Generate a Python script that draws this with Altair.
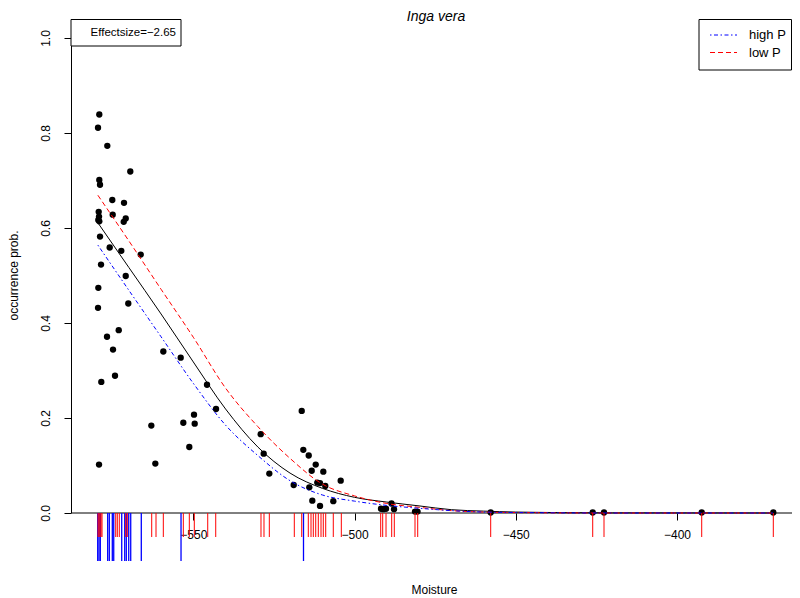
import altair as alt
import pandas as pd

# ---------------- data ----------------
TITLE = "Inga vera"
X_TITLE = "Moisture"
Y_TITLE = "occurrence prob."
EFFECT_LABEL = "Effectsize=\u22122.65"
LEGEND_LABELS = ["high P", "low P"]
X_TICKS = [-550, -500, -450, -400]
Y_TICKS = [0.0, 0.2, 0.4, 0.6, 0.8, 1.0]

point_moisture = [
    -579.15, -579.55, -576.67, -569.54, -579.15, -578.93, -575.12, -571.49,
    -579.34, -579.24, -579.46, -579.15, -575.00, -570.96, -571.58, -578.93,
    -575.93, -572.33, -566.31, -578.62, -570.96, -579.46, -570.16, -579.55,
    -573.13, -576.76, -574.90, -559.30, -553.91, -574.28, -578.53, -579.24,
    -545.75, -542.96, -549.78, -553.10, -549.57, -563.02, -529.10, -551.24,
    -528.17, -561.78, -526.43,
    -516.38, -515.89, -514.21, -512.04, -513.28, -509.69, -504.29, -518.87,
    -514.03, -511.55, -510.71, -509.07, -513.10, -506.59, -510.71,
    -491.79, -491.08, -490.24, -488.54, -487.76, -481.25, -480.47,
    -457.78, -426.14, -422.64, -392.34, -370.14,
]
point_prob = [
    0.839, 0.811, 0.773, 0.719, 0.701, 0.691, 0.659, 0.653,
    0.634, 0.624, 0.617, 0.614, 0.628, 0.620, 0.613, 0.582,
    0.559, 0.552, 0.544, 0.523, 0.499, 0.474, 0.441, 0.432,
    0.385, 0.371, 0.344, 0.340, 0.327, 0.289, 0.276, 0.102,
    0.270, 0.219, 0.207, 0.190, 0.188, 0.184, 0.166, 0.139,
    0.125, 0.104, 0.083,
    0.215, 0.133, 0.121, 0.102, 0.089, 0.087, 0.068, 0.059,
    0.054, 0.064, 0.063, 0.057, 0.026, 0.025, 0.015,
    0.009, 0.008, 0.009, 0.020, 0.008, 0.003, 0.003,
    0.001, 0.001, 0.001, 0.001, 0.001,
]

curve_moisture = [-579.6, -570, -560, -550, -540, -530, -520, -510, -500,
                  -490, -480, -470, -460, -450, -420, -370.2]
curve_mean = [0.611, 0.517, 0.419, 0.318, 0.219, 0.139, 0.084, 0.052, 0.033,
              0.023, 0.015, 0.007, 0.004, 0.002, 0.0002, 0.0]
curve_low_p = [0.669, 0.573, 0.471, 0.370, 0.263, 0.182, 0.115, 0.061, 0.036,
               0.020, 0.012, 0.005, 0.002, 0.001, 0.0, 0.0]
curve_high_p = [0.564, 0.469, 0.371, 0.273, 0.185, 0.121, 0.068, 0.038, 0.025,
                0.016, 0.010, 0.005, 0.002, 0.001, 0.0, 0.0]

rug_high_p = [-579.65, -579.24, -578.84, -576.55, -576.05, -575.12, -574.68,
              -572.20, -571.27, -570.78, -570.03, -569.41, -566.13, -553.81,
              -515.83]
rug_low_p = [-579.55, -579.24, -578.93, -578.62, -578.31, -574.06, -573.57,
             -572.95, -570.96, -570.47, -562.90, -561.57, -559.30, -553.10,
             -551.24, -549.69, -545.53, -543.05, -529.01, -528.08, -526.43,
             -518.68, -516.38, -514.34, -513.50, -512.79, -512.04, -511.24,
             -510.40, -509.69, -508.94, -506.59, -504.10, -491.89, -491.27,
             -490.24, -488.48, -487.67, -481.25, -480.41, -457.78, -426.14,
             -422.64, -392.34, -370.14]

# ---------------- chart ----------------
W, H = 721, 513
FONT = "Liberation Sans"

xs = alt.Scale(domain=[-587.93, -364.34], nice=False, zero=False)
ys = alt.Scale(domain=[-0.04, 1.04], nice=False, zero=False)

pts = pd.DataFrame({"m": point_moisture, "p": point_prob})
curves = pd.DataFrame({"m": curve_moisture, "mean": curve_mean,
                       "low": curve_low_p, "high": curve_high_p})
rug_hi = pd.DataFrame({"m": rug_high_p})
rug_lo = pd.DataFrame({"m": rug_low_p})

x_axis = alt.Axis(values=X_TICKS, tickSize=7, domain=False, offset=-19,
                  labelPadding=9, labelFontSize=12, labelFont=FONT,
                  labelColor="black", tickColor="black", title=None,
                  grid=False, labelFlush=False, labelOverlap=False, format="d")
y_axis = alt.Axis(values=Y_TICKS, tickSize=7, domain=False, labelAngle=270,
                  labelAlign="center", labelBaseline="bottom", labelPadding=12,
                  labelFontSize=12, labelFont=FONT, labelColor="black",
                  tickColor="black", title=None, grid=False, format=".1f",
                  labelFlush=False, labelOverlap=False)

points = alt.Chart(pts).mark_point(filled=True, color="black", size=40,
                                   opacity=1).encode(
    x=alt.X("m:Q", scale=xs, axis=x_axis),
    y=alt.Y("p:Q", scale=ys, axis=y_axis))

zero_line = alt.Chart(pd.DataFrame({"y": [0.0]})).mark_rule(
    color="black", strokeWidth=1).encode(
    y=alt.Y("y:Q", scale=ys), x=alt.value(0), x2=alt.value(W))

y_line = alt.Chart(pd.DataFrame({"a": [Y_TICKS[0]], "b": [Y_TICKS[-1]]})).mark_rule(
    color="black", strokeWidth=1).encode(
    y=alt.Y("a:Q", scale=ys), y2="b:Q", x=alt.value(0.5))

line_mean = alt.Chart(curves).mark_line(
    color="black", strokeWidth=1, interpolate="monotone").encode(
    x=alt.X("m:Q", scale=xs), y=alt.Y("mean:Q", scale=ys))
line_low = alt.Chart(curves).mark_line(
    color="#FF0000", strokeWidth=1, strokeDash=[5, 3],
    interpolate="monotone").encode(
    x=alt.X("m:Q", scale=xs), y=alt.Y("low:Q", scale=ys))
line_high = alt.Chart(curves).mark_line(
    color="#0000FF", strokeWidth=1, strokeDash=[1.5, 2.5, 4, 2.5],
    interpolate="monotone").encode(
    x=alt.X("m:Q", scale=xs), y=alt.Y("high:Q", scale=ys))

rug_blue = alt.Chart(rug_hi).mark_rule(color="#0000FF", strokeWidth=1.3).encode(
    x=alt.X("m:Q", scale=xs), y=alt.value(494), y2=alt.value(542))
rug_red = alt.Chart(rug_lo).mark_rule(color="#FF0000", strokeWidth=1).encode(
    x=alt.X("m:Q", scale=xs), y=alt.value(494), y2=alt.value(518))

# effect size box (top left)
eff = pd.DataFrame({"t": [EFFECT_LABEL]})
eff_box = alt.Chart(eff).mark_rect(fill="white", stroke="black",
                                   strokeWidth=1).encode(
    x=alt.value(0), x2=alt.value(110), y=alt.value(0.5), y2=alt.value(27))
eff_text = alt.Chart(eff).mark_text(align="right", baseline="middle",
                                    font=FONT, fontSize=11.5,
                                    color="black").encode(
    text="t:N", x=alt.value(105), y=alt.value(14))

# legend (top right)
LX = 628
leg = pd.DataFrame({"t": LEGEND_LABELS})
leg_box = alt.Chart(leg.head(1)).mark_rect(fill="white", stroke="black",
                                           strokeWidth=1).encode(
    x=alt.value(LX), x2=alt.value(W - 0.5), y=alt.value(0.5), y2=alt.value(51))
leg_hi_line = alt.Chart(leg.head(1)).mark_rule(
    color="#0000FF", strokeWidth=1, strokeDash=[1.5, 2.5, 4, 2.5]).encode(
    x=alt.value(LX + 11), x2=alt.value(LX + 38), y=alt.value(16))
leg_lo_line = alt.Chart(leg.head(1)).mark_rule(
    color="#FF0000", strokeWidth=1, strokeDash=[5, 3]).encode(
    x=alt.value(LX + 11), x2=alt.value(LX + 38), y=alt.value(33.5))
leg_hi_text = alt.Chart(leg.head(1)).mark_text(
    align="left", baseline="middle", font=FONT, fontSize=13,
    color="black").encode(text="t:N", x=alt.value(LX + 50), y=alt.value(16))
leg_lo_text = alt.Chart(leg.tail(1)).mark_text(
    align="left", baseline="middle", font=FONT, fontSize=13,
    color="black").encode(text="t:N", x=alt.value(LX + 50), y=alt.value(33.5))

# titles
ttl = alt.Chart(pd.DataFrame({"t": [TITLE]})).mark_text(
    align="center", baseline="alphabetic", font=FONT, fontSize=14,
    fontStyle="italic", color="black").encode(
    text="t:N", x=alt.value(365), y=alt.value(2))
xt = alt.Chart(pd.DataFrame({"t": [X_TITLE]})).mark_text(
    align="center", baseline="alphabetic", font=FONT, fontSize=12,
    color="black").encode(text="t:N", x=alt.value(363.5), y=alt.value(575))
yt = alt.Chart(pd.DataFrame({"t": [Y_TITLE]})).mark_text(
    align="center", baseline="middle", font=FONT, fontSize=12, angle=270,
    color="black").encode(text="t:N", x=alt.value(-57), y=alt.value(H / 2))

chart = alt.layer(
    points, zero_line, y_line, line_mean, line_low, line_high,
    rug_blue, rug_red, eff_box, eff_text,
    leg_box, leg_hi_line, leg_lo_line, leg_hi_text, leg_lo_text,
    ttl, xt, yt,
).properties(
    width=W, height=H,
    autosize=alt.AutoSizeParams(type="none"),
    padding={"left": 63, "top": 11, "right": 0, "bottom": 64},
    background="white",
).configure_view(stroke=None)

chart.save("out.html", embed_options={"renderer": "svg", "actions": False})
